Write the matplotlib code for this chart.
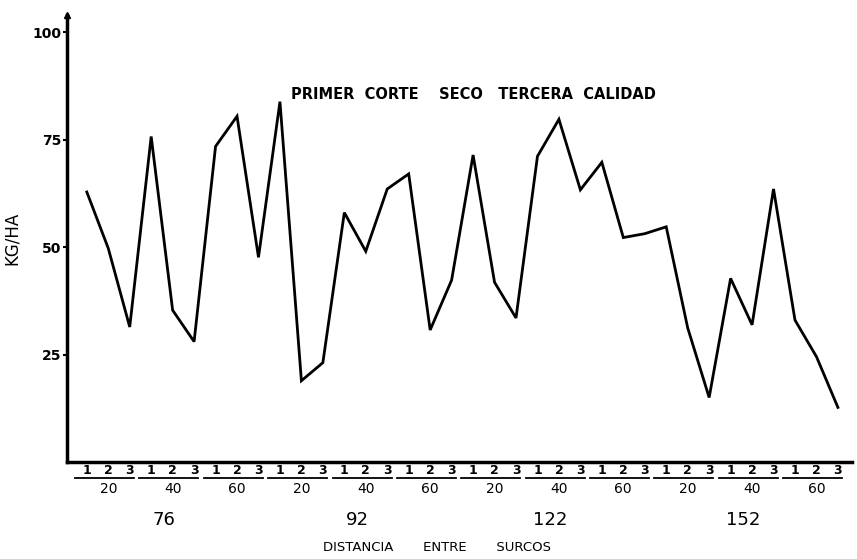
import matplotlib
matplotlib.use('Agg')
import matplotlib.pyplot as plt

# Rendimiento (KG/HA), primer corte seco, tercera calidad
surcos = ["76", "92", "122", "152"]
distancias = ["20", "40", "60"]
niveles = ["1", "2", "3"]
kg_ha = [
    62.8, 49.7, 31.4, 75.7, 35.3, 28.0, 73.4, 80.4, 47.6,
    83.8, 18.9, 23.1, 58.0, 49.0, 63.5, 67.0, 30.7, 42.3,
    71.4, 41.8, 33.5, 71.1, 79.7, 63.3, 69.7, 52.2, 53.1,
    54.7, 31.2, 15.0, 42.7, 31.9, 63.5, 33.0, 24.5, 12.7,
]
y_ticks = [25, 50, 75, 100]

fig = plt.figure(figsize=(8.57, 5.59), dpi=100)
ax = fig.add_axes([0.078, 0.1735, 0.916, 0.80])

x = list(range(len(kg_ha)))
ax.plot(x, kg_ha, color='black', linewidth=2.0, solid_joinstyle='miter')

ax.set_xlim(-0.93, 35.65)
ax.set_ylim(0, 104)

for side in ['top', 'right']:
    ax.spines[side].set_visible(False)
for side in ['left', 'bottom']:
    ax.spines[side].set_linewidth(2.5)

# arrow tip on the y axis
ax.plot([0], [1], marker='^', color='black', markersize=5,
        transform=ax.transAxes, clip_on=False)

ax.set_yticks(y_ticks)
ax.set_yticklabels([str(v) for v in y_ticks], fontsize=10, fontweight='bold')
ax.tick_params(axis='y', length=3, width=1.5, pad=1)
ax.set_xticks([])
ax.set_ylabel('KG/HA', fontsize=12, labelpad=8)

ax.text(9.5, 85.5, 'PRIMER  CORTE    SECO   TERCERA  CALIDAD',
        fontsize=10.5, fontweight='bold', ha='left', va='center')

tr = ax.get_xaxis_transform()
n_lev = len(niveles)
n_dist = len(distancias)
for s, surco in enumerate(surcos):
    for d, dist in enumerate(distancias):
        start = (s * n_dist + d) * n_lev
        for k, lev in enumerate(niveles):
            ax.text(start + k, -0.018, lev, transform=tr, ha='center', va='center',
                    fontsize=9, fontweight='bold')
        ax.plot([start - 0.55, start + 2.2], [-0.036, -0.036], transform=tr,
                color='black', linewidth=1.3, clip_on=False)
        ax.text(start + 1, -0.06, dist, transform=tr, ha='center', va='center',
                fontsize=10)
    ax.text(s * n_dist * n_lev + 3.6, -0.129, surco, transform=tr,
            ha='center', va='center', fontsize=13)

ax.text(16.3, -0.191, 'DISTANCIA       ENTRE       SURCOS', transform=tr,
        ha='center', va='center', fontsize=9.5)

fig.savefig('out.png', dpi=100)
